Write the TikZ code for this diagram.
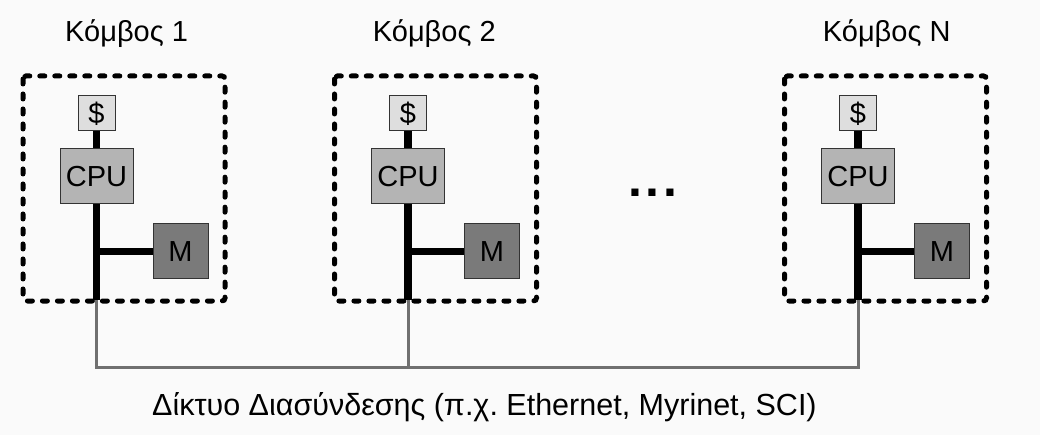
\documentclass[tikz,border=0pt]{standalone}
\usepackage{fontspec}
\setmainfont{Liberation Sans}
\frenchspacing
\definecolor{bgcol}{HTML}{FAFAFA}
\definecolor{cachecol}{HTML}{DEDEDE}
\definecolor{cpucol}{HTML}{B4B4B4}
\definecolor{memcol}{HTML}{7A7A7A}
\definecolor{edgecol}{HTML}{333333}
\definecolor{netcol}{HTML}{707070}
\tikzset{
  unit/.style={draw=edgecol, line width=1pt, inner sep=0pt,
    font=\fontsize{29}{32}\selectfont},
  cachebox/.style={unit, fill=cachecol, minimum width=37pt, minimum height=35pt},
  cpubox/.style={unit, fill=cpucol, minimum width=73pt, minimum height=55pt},
  membox/.style={unit, fill=memcol, minimum width=55pt, minimum height=55pt},
  nodeframe/.style={draw=black, line width=5pt, line cap=round,
    dash pattern=on 5pt off 10pt, rounded corners=3pt},
  bus/.style={draw=black, line width=7.5pt},
  net/.style={draw=netcol, line width=3pt},
  title/.style={anchor=base west, inner sep=0pt, font=\fontsize{29}{32}\selectfont},
}
\begin{document}
\begin{tikzpicture}[x=1pt, y=-1pt]
  % canvas
  \fill[bgcol] (0,0) rectangle (1040,435);
  \useasboundingbox (0,0) rectangle (1040,435);

  % one computing node per column: name / horizontal offset / title x
  \foreach \i/\dx/\tx in {1/0/65, 2/311.5/372.7, N/761.5/822.7}{
    \node[title] (title\i) at (\tx,42) {Κόμβος \i};
    \draw[nodeframe] (23+\dx,76) rectangle (225+\dx,301);
    \node[cachebox] (cache\i) at (96.5+\dx,113.5) {\$};
    \node[cpubox]   (cpu\i)   at (96.5+\dx,176.5) {CPU};
    \node[membox]   (mem\i)   at (180.5+\dx,251.5) {M};
    \coordinate (base\i) at (96.5+\dx,300);
    \coordinate (join\i) at (96.5+\dx,367);
    % local bus
    \draw[bus] (cache\i.south) -- (cpu\i.north);
    \draw[bus] (cpu\i.south) -- (base\i);
    \draw[bus] (mem\i.west) -- (mem\i.west -| cpu\i.south);
  }

  % interconnection network
  \draw[net] (base1) -- (join1) -- (joinN) -- (baseN);
  \draw[net] (base2) -- (join2);

  % ellipsis between node 2 and node N
  \node[anchor=base west, inner sep=0pt, font=\fontsize{50}{50}\selectfont\bfseries]
    (dots) at (628.5,197) {.\hspace{3.3pt}.\hspace{3.3pt}.};

  \node[anchor=base west, inner sep=0pt, font=\fontsize{30.5}{33}\selectfont]
    (netlabel) at (152,415) {Δίκτυο Διασύνδεσης (π.χ. Ethernet, Myrinet, SCI)};
\end{tikzpicture}
\end{document}
